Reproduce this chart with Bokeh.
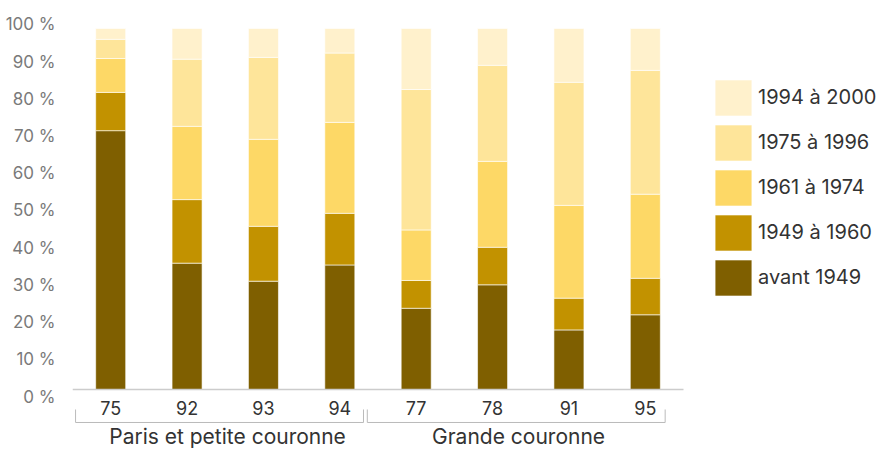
from bokeh.plotting import figure
from bokeh.models import Range1d, FixedTicker, ColumnDataSource, Legend, LegendItem
from bokeh.core.properties import value
from bokeh.embed import file_html
from bokeh.resources import INLINE

# ---- data ----
departements = ["75", "92", "93", "94", "77", "78", "91", "95"]
avant_1949 = [71.7, 35.0, 30.0, 34.5, 22.5, 29.0, 16.5, 20.7]
p1949_1960 = [10.6, 17.6, 15.2, 14.3, 7.7, 10.4, 8.8, 10.1]
p1961_1974 = [9.4, 20.3, 24.1, 25.2, 14.0, 23.8, 25.7, 23.3]
p1975_1996 = [5.3, 18.6, 22.7, 19.2, 38.9, 26.6, 34.1, 34.3]
p1994_2000 = [3.0, 8.5, 8.0, 6.8, 16.9, 10.2, 14.9, 11.6]
series_labels = ["avant 1949", "1949 à 1960", "1961 à 1974", "1975 à 1996", "1994 à 2000"]
colors = ["#7f5f00", "#c29200", "#fdd866", "#fee59a", "#fff1cc"]
groups = ["Paris et petite couronne", "Grande couronne"]
y_ticks = [0, 10, 20, 30, 40, 50, 60, 70, 80, 90, 100]

FONT = "Inter"
N = len(departements)
UNIT = 611 / N            # pixels per category band
PX_PER_PCT = 3.61

xs = [i + 0.5 for i in range(N)]
keys = ["s0", "s1", "s2", "s3", "s4"]
source = ColumnDataSource(dict(x=xs, dep=departements, s0=avant_1949, s1=p1949_1960,
                               s2=p1961_1974, s3=p1975_1996, s4=p1994_2000))

top_border, bottom_border = 20, 0
frame_h = 450 - top_border - bottom_border
y_end = 100 + (28 - top_border) / PX_PER_PCT
y_start = y_end - frame_h / PX_PER_PCT

p = figure(width=885, height=450, x_range=Range1d(0, (885 - 72) / UNIT),
           y_range=Range1d(y_start, y_end),
           min_border_left=72, min_border_right=0, min_border_top=top_border,
           min_border_bottom=bottom_border,
           output_backend="svg", toolbar_location=None, outline_line_color=None)
p.grid.visible = False

renderers = p.vbar_stack(keys, x="x", width=0.393, source=source, color=colors,
                         line_color="white", line_alpha=0.6, line_width=1)

# baseline
p.line(x=[0, N], y=[0, 0], line_color="#cccccc", line_width=1.5)

# x axis at y=0
xa = p.xaxis[0]
xa.fixed_location = 0
xa.ticker = FixedTicker(ticks=xs)
xa.major_label_overrides = {x: d for x, d in zip(xs, departements)}
xa.major_tick_line_color = None
xa.minor_tick_line_color = None
xa.axis_line_color = None
xa.major_label_standoff = 5
xa.major_label_text_font_size = "18px"
xa.major_label_text_color = "#333333"
xa.major_label_text_font = FONT

# y labels: the reference spreads its labels slightly wider than the bar scale
label_pos = [-1.94 + 1.0305 * t for t in y_ticks]
ya = p.yaxis[0]
ya.ticker = FixedTicker(ticks=label_pos)
ya.major_label_overrides = {lp: f"{t} %" for lp, t in zip(label_pos, y_ticks)}
ya.axis_line_color = None
ya.major_tick_line_color = None
ya.minor_tick_line_color = None
ya.major_label_standoff = 11
ya.major_label_text_font_size = "17px"
ya.major_label_text_color = "#7a7a7a"
ya.major_label_text_font = FONT

# group brackets and labels
b_x0 = [0.04, 3.86]
b_x1 = [3.81, 7.76]
b_top, b_bot = -5.54, -9.14
p.multi_line(xs=[[a, a, b, b] for a, b in zip(b_x0, b_x1)],
             ys=[[b_top, b_bot, b_bot, b_top] for _ in b_x0],
             line_color="#bbbbbb", line_width=1)
p.text(x=[2.03, 5.84], y=[-13.0, -13.0], text=groups, text_align="center",
       text_baseline="middle", text_font_size="21px", text_color="#333333",
       text_font=value(FONT))

legend = Legend(items=[LegendItem(label=l, renderers=[r])
                       for l, r in reversed(list(zip(series_labels, renderers)))],
                location=(638, 450 - 299.5), glyph_width=46,
                glyph_height=45, spacing=0,
                label_standoff=2, padding=0, margin=0, border_line_color=None,
                background_fill_alpha=0, label_text_font_size="20px",
                label_text_color="#333333", label_text_font=FONT)
p.add_layout(legend)

open("out.html", "w").write(file_html(p, INLINE))
